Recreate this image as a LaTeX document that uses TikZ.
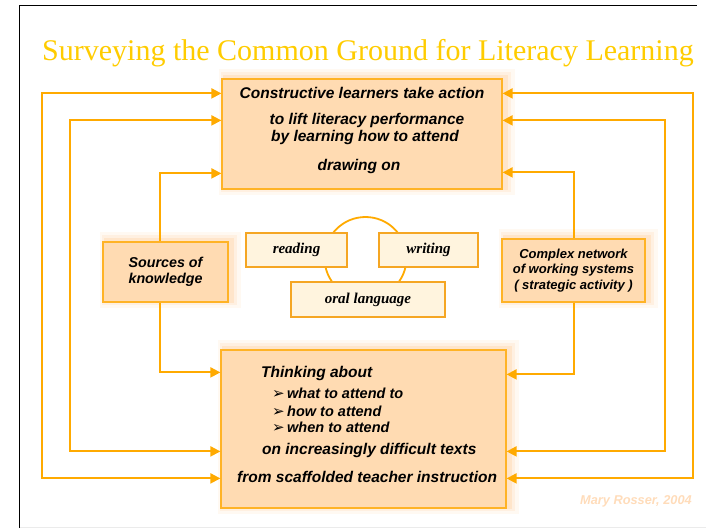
\documentclass[tikz,border=0pt]{standalone}
\usepackage{fontspec}
\setmainfont{Liberation Serif}
\setsansfont{Liberation Sans}
\newfontfamily\symfont{DejaVu Sans}
\usetikzlibrary{arrows.meta}

\definecolor{titlegold}{HTML}{FFCC00}
\definecolor{linkorange}{HTML}{FFAA00}
\definecolor{boxedge}{HTML}{FFB326}
\definecolor{boxfill}{HTML}{FFDBB2}
\definecolor{creamfill}{HTML}{FFF4DE}
\definecolor{creamedge}{HTML}{F5A623}
\definecolor{signcolor}{HTML}{FFDCBA}

\tikzset{
  glow/.style={
    preaction={draw=orange, draw opacity=0.05, line width=16pt,
      transform canvas={xshift=5pt, yshift=2pt}},
    preaction={draw=orange, draw opacity=0.07, line width=10pt,
      transform canvas={xshift=4pt, yshift=2pt}},
    preaction={draw=orange, draw opacity=0.10, line width=5pt,
      transform canvas={xshift=3pt, yshift=2pt}}},
  bigbox/.style={glow, draw=boxedge, line width=1.2pt, fill=boxfill,
    inner sep=0pt},
  sidebox/.style={bigbox, align=center,
    font=\sffamily\bfseries\itshape\fontsize{14.3}{15.5}\selectfont},
  skillbox/.style={draw=creamedge, line width=1.6pt, fill=creamfill,
    inner sep=0pt, font=\rmfamily\bfseries\itshape\fontsize{15}{16}\selectfont},
  mainline/.style={anchor=base, inner sep=0pt,
    font=\sffamily\bfseries\itshape\fontsize{15.5}{17}\selectfont},
  bulletline/.style={anchor=base west, inner sep=0pt,
    font=\sffamily\bfseries\itshape\fontsize{14.5}{16}\selectfont},
  link/.style={draw=linkorange, line width=2pt,
    -{Triangle[length=10pt, width=10pt]}},
  twoway/.style={draw=linkorange, line width=2pt,
    {Triangle[length=10pt, width=10pt]}-{Triangle[length=10pt, width=10pt]}}
}

% arrowhead bullet followed by a fixed gap
\newcommand{\bul}{\makebox[15pt][l]{\symfont\upshape\fontsize{15}{15}\selectfont ➢}}

\begin{document}
\begin{tikzpicture}[x=1pt, y=-1pt]
  \useasboundingbox (0,0) rectangle (706,528);

  % slide frame
  \draw[black, line width=1pt] (19.7,528) -- (19.7,5.3) -- (697,5.3);
  \draw[black!8, line width=0.8pt] (19.7,527.3) -- (706,527.3);

  % title
  \node[anchor=base, inner sep=0pt, text=titlegold,
        font=\rmfamily\fontsize{30}{32}\selectfont] (title) at (368,60)
        {Surveying the Common Ground for Literacy Learning};

  % central circle behind the three skills
  \node[circle, draw=linkorange, line width=1.8pt, minimum size=82pt,
        inner sep=0pt] (ring) at (365.5,258) {};

  % main boxes
  \node[bigbox, minimum width=280pt, minimum height=110pt] (top) at (362,134) {};
  \node[bigbox, minimum width=285pt, minimum height=158pt] (bot) at (363.5,429) {};
  \node[sidebox, minimum width=125pt, minimum height=60pt] (src) at (165.5,272)
        {Sources of\\knowledge};
  \node[sidebox, minimum width=143pt, minimum height=63pt,
        font=\sffamily\bfseries\itshape\fontsize{13}{15.5}\selectfont] (cx) at (573.5,270.5)
        {Complex network\\of working systems\\( strategic activity )};

  % skills
  \node[skillbox, minimum width=101pt, minimum height=34pt] (rd) at (296.5,250) {reading};
  \node[skillbox, minimum width=99pt, minimum height=34pt] (wr) at (428.5,250) {writing};
  \node[skillbox, minimum width=154pt, minimum height=35pt] (ol) at (368,299.5) {oral language};

  % text of the upper box
  \node[mainline] (t1) at (362,98) {Constructive learners take action};
  \node[mainline] (t2) at (367,124) {to lift literacy performance};
  \node[mainline] (t3) at (365,141) {by learning how to attend};
  \node[mainline] (t4) at (359,170) {drawing on};

  % text of the lower box
  \node[mainline, anchor=base west] (b1) at (261,377) {Thinking about};
  \node[bulletline] (b2) at (272,398) {\bul what to attend to};
  \node[bulletline] (b3) at (272,416) {\bul how to attend};
  \node[bulletline] (b4) at (272,432) {\bul when to attend};
  \node[mainline, anchor=base west] (b5) at (262,454) {on increasingly difficult texts};
  \node[mainline, anchor=base west] (b6) at (237,482) {from scaffolded teacher instruction};

  % signature
  \node[anchor=base east, inner sep=0pt, text=signcolor,
        font=\sffamily\bfseries\itshape\fontsize{12.8}{14}\selectfont] (sig) at (692,504)
        {Mary Rosser, 2004};

  % outer loops on the left
  \draw[twoway] ([yshift=-15pt]top.north west) -- ++(-179,0)
        |- ([yshift=-129pt]bot.north west);
  \draw[twoway] ([yshift=-42pt]top.north west) -- ++(-151,0)
        |- ([yshift=-102pt]bot.north west);

  % outer loops on the right, both ends pointing in
  \draw[twoway] ([yshift=-15pt]top.north east) -- ++(190,0)
        |- ([yshift=-129pt]bot.north east);
  \draw[twoway] ([yshift=-42pt]top.north east) -- ++(162,0)
        |- ([yshift=-102pt]bot.north east);

  % sources of knowledge feed both boxes
  \draw[link] ([xshift=-6pt]src.north) |- ([yshift=-95pt]top.north west);
  \draw[link] ([xshift=-6pt]src.south) |- ([yshift=-23pt]bot.north west);

  % working systems feed both boxes
  \draw[link] (cx.north) |- ([yshift=-94pt]top.north east);
  \draw[link] (cx.south) |- ([yshift=-25pt]bot.north east);
\end{tikzpicture}
\end{document}
